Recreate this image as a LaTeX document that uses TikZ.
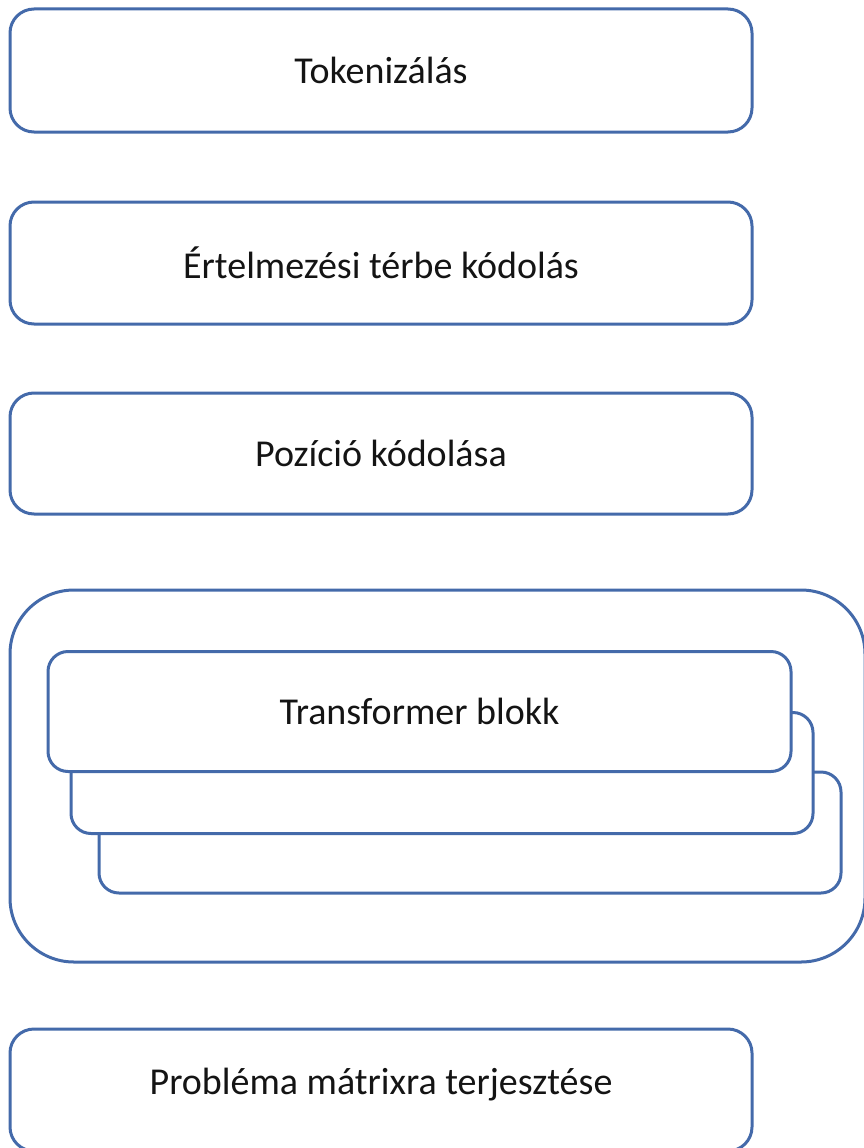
\documentclass[tikz,border=0pt]{standalone}
\usepackage{fontspec}
\setmainfont{Carlito}
\definecolor{boxblue}{RGB}{68,106,170}
\definecolor{txt}{RGB}{20,20,20}
\tikzset{
  stepbox/.style={draw=boxblue, line width=3pt, fill=white, rounded corners=24pt,
    rectangle, inner sep=0pt, text=txt, font=\fontsize{38}{44}\selectfont},
  outerbox/.style={draw=boxblue, line width=3pt, rounded corners=64pt, rectangle, inner sep=0pt}
}
\begin{document}
\begin{tikzpicture}[x=1pt,y=-1pt]
\useasboundingbox (0,0) rectangle (863,1148);
\node[stepbox, minimum width=742pt, minimum height=123pt] (tok) at (381,70.5) {Tokenizálás};
\node[stepbox, minimum width=742pt, minimum height=122pt] (emb) at (381,263) {Értelmezési térbe kódolás};
\node[stepbox, minimum width=742pt, minimum height=121pt] (pos) at (381,453.5) {Pozíció kódolása};
\node[outerbox, minimum width=855pt, minimum height=372pt] (outer) at (437.5,776) {};
\node[stepbox, rounded corners=20pt, minimum width=742pt, minimum height=121pt] (tb3) at (470,832.5) {};
\node[stepbox, rounded corners=20pt, minimum width=742pt, minimum height=121pt] (tb2) at (442,773) {};
\node[stepbox, rounded corners=20pt, minimum width=743pt, minimum height=120pt] (tb1) at (419.5,711.5) {Transformer blokk};
\node[stepbox, minimum width=742pt, minimum height=122pt] (prob) at (381,1090) {};
\node[text=txt, font=\fontsize{38}{44}\selectfont] (probt) at (381,1085) {Probléma mátrixra terjesztése};
\end{tikzpicture}
\end{document}
